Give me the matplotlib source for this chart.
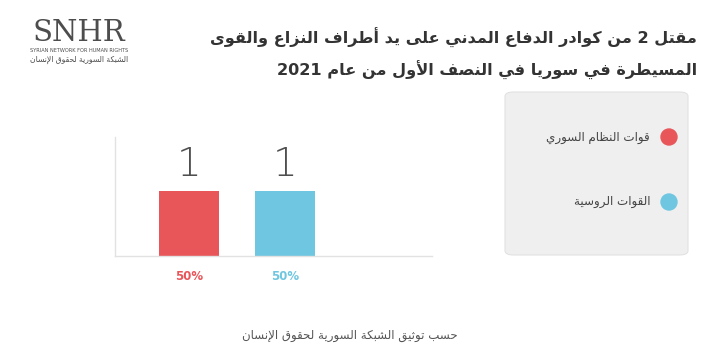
import re
import matplotlib
matplotlib.use("Agg")
import matplotlib.pyplot as plt
from matplotlib.patches import FancyBboxPatch, Ellipse

# ---- data ----
categories = ["قوات النظام السوري", "القوات الروسية"]
values = [1, 1]
shares = ["50%", "50%"]
colors = ["#E8565A", "#6FC6E0"]
title_lines = ["مقتل 2 من كوادر الدفاع المدني على يد أطراف النزاع والقوى",
               "المسيطرة في سوريا في النصف الأول من عام 2021"]
source_text = "حسب توثيق الشبكة السورية لحقوق الإنسان"
logo_ar = "الشبكة السورية لحقوق الإنسان"

# ---- minimal arabic shaping (matplotlib has no shaping / bidi) ----
letters = "ءآأؤإئابةتثجحخدذرزسشصضطظعغفقكلمنهوىي"
right_join = set("آأؤإاةدذرزوى")
forms = {}
code = 0xFE80
for ch in letters:
    n = 1 if ch == "ء" else (2 if ch in right_join else 4)
    forms[ch] = (code, n)
    code += n
lam_alef = {"آ": 0xFEF5, "أ": 0xFEF7, "إ": 0xFEF9, "ا": 0xFEFB}


def shape(text):
    chars = list(text)
    out = []
    i = 0
    while i < len(chars):
        c = chars[i]
        if c not in forms:
            out.append(c)
            i += 1
            continue
        prev = chars[i - 1] if i > 0 else ""
        joins_prev = prev in forms and forms[prev][1] == 4
        if c == "ل" and i + 1 < len(chars) and chars[i + 1] in lam_alef:
            base = lam_alef[chars[i + 1]]
            out.append(chr(base + (1 if joins_prev else 0)))
            i += 2
            continue
        base, n = forms[c]
        nxt = chars[i + 1] if i + 1 < len(chars) else ""
        joins_next = n == 4 and nxt in forms
        if n == 1:
            out.append(chr(base))
        elif joins_prev and joins_next:
            out.append(chr(base + 3))
        elif joins_next:
            out.append(chr(base + 2))
        elif joins_prev:
            out.append(chr(base + 1))
        else:
            out.append(chr(base))
        i += 1
    s = "".join(out)[::-1]
    return re.sub(r"[0-9A-Za-z%]+", lambda m: m.group()[::-1], s)


plt.rcParams['font.family'] = ['DejaVu Sans']

fig = plt.figure(figsize=[7.2, 3.57], dpi=100)
W, H = 720.0, 357.0

# title
fig.text(697 / W, 1 - 38 / H, shape(title_lines[0]), ha="right", va="center",
         fontsize=11.6, fontweight="bold", color="#333333")
fig.text(697 / W, 1 - 70 / H, shape(title_lines[1]), ha="right", va="center",
         fontsize=11.6, fontweight="bold", color="#333333")

# logo
fig.text(79 / W, 1 - 33 / H, "SNHR", ha="center", va="center", fontsize=21,
         family="DejaVu Serif", color="#4d4d4d")
fig.text(79 / W, 1 - 50 / H, "SYRIAN NETWORK FOR HUMAN RIGHTS", ha="center",
         va="center", fontsize=3.6, color="#4d4d4d")
fig.text(79 / W, 1 - 59 / H, shape(logo_ar), ha="center", va="center",
         fontsize=5.5, color="#4d4d4d")

# bars
ax = fig.add_axes([115 / W, 1 - 256 / H, 317 / W, 119 / H])
x = list(range(len(values)))
ax.bar(x, values, width=0.625, color=colors)
ax.set_xlim(-0.771, 2.531)
ax.set_ylim(0, 1.83)
for xi, v, s, c in zip(x, values, shares, colors):
    ax.text(xi, v + 0.1, str(v), ha="center", va="bottom", fontsize=28,
            color="#4f4f4f", fontweight="light")
    ax.text(xi, -0.32, s, ha="center", va="center", fontsize=8.5,
            color=c, fontweight="bold")
for side in ["top", "right"]:
    ax.spines[side].set_visible(False)
for side in ["left", "bottom"]:
    ax.spines[side].set_color("#e2e2e2")
    ax.spines[side].set_linewidth(1)
ax.set_xticks([])
ax.set_yticks([])
ax.patch.set_alpha(0)

# legend box
box = FancyBboxPatch((505 / W, 1 - 255 / H), 183 / W, 163 / H,
                     boxstyle="round,pad=0,rounding_size=0.012",
                     transform=fig.transFigure, facecolor="#efefef",
                     edgecolor="#e2e2e2", linewidth=0.8)
fig.patches.append(box)
leg_y = [137, 202]
for lab, c, yy in zip(categories, colors, leg_y):
    fig.patches.append(Ellipse((669 / W, 1 - yy / H), 16 / W, 16 / H,
                               transform=fig.transFigure, color=c))
    fig.text(650 / W, 1 - yy / H, shape(lab), ha="right", va="center",
             fontsize=8.6, color="#444444")

# source
fig.text(350 / W, 1 - 336 / H, shape(source_text), ha="center", va="center",
         fontsize=8.5, color="#555555")

plt.savefig("out.png", dpi=100)
